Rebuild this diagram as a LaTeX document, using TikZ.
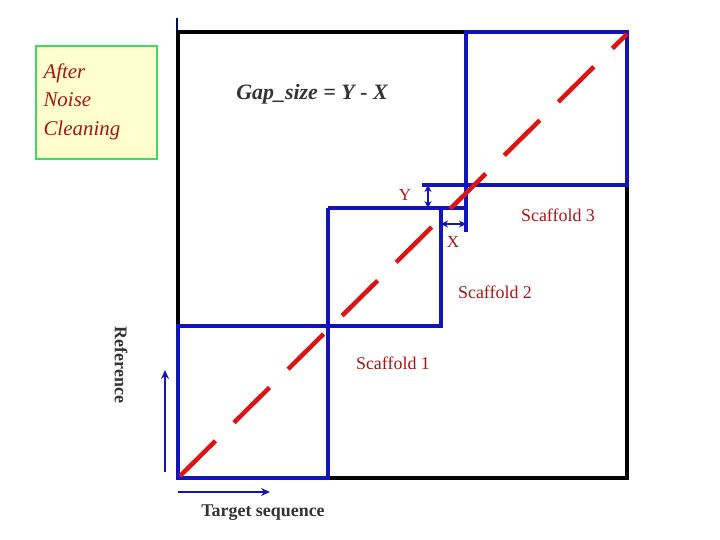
\documentclass[tikz,border=0pt]{standalone}
\usepackage{fontspec}
\setmainfont{Liberation Serif}
\usetikzlibrary{positioning,arrows.meta}
\definecolor{sblue}{RGB}{20,20,190}
\definecolor{sred}{RGB}{220,20,20}
\definecolor{tred}{RGB}{170,20,20}
\definecolor{sgreen}{RGB}{60,220,100}
\definecolor{syellow}{RGB}{255,255,205}
\begin{document}
\begin{tikzpicture}[x=1bp,y=-1bp,
			box/.style={draw=sblue, line width=3.2pt},
			tag/.style={text=tred, font=\fontsize{17}{19}\selectfont},
			dim/.style={draw=sblue, line width=2.5pt, {Stealth[length=7pt,width=7pt]}-{Stealth[length=7pt,width=7pt]}},
			axis/.style={draw=sblue, line width=2.2pt, -{Stealth[length=9pt,width=8pt]}}]
			\useasboundingbox (0,0) rectangle (720,540);
			\draw[sblue!50!black, line width=2pt] (177,18) -- (177,110);
			\draw[line width=4pt] (178,32) rectangle (627,478);
			\coordinate (s1a) at (178,326); \coordinate (s1b) at (328,478);
			\coordinate (s2a) at (328,208); \coordinate (s2b) at (441,326);
			\coordinate (s3a) at (466,32); \coordinate (s3b) at (627,185);
			\draw[box] (s1a) rectangle (s1b);
			\draw[box] (s2a) -- (466,208);
			\draw[box] (441,208) -- (s2b) -- (328,326) -- (s2a);
			\draw[box] (s3a) rectangle (s3b);
			\draw[box] (422,185) -- (466,185) -- (466,232);
			\draw[dim] (428,185) -- (428,208);
			\draw[dim] (441,224) -- (466,224);
			\draw[sred, line width=4.5pt, dash pattern=on 50bp off 26bp] (180,476) -- (627,34);
			\node[draw=sgreen, line width=3pt, fill=syellow, minimum width=121bp, minimum height=113bp] (noise) at (96.5,102.5) {};
			\node[tag, font=\fontsize{21}{28.5}\selectfont\itshape, align=left, anchor=north west] (noisetxt) at (40,60) {After\\Noise\\Cleaning};
			\node[font=\fontsize{22}{24}\selectfont\bfseries\itshape, text=black!80] (gap) at (312,94) {Gap\_size = Y - X};
			\node[tag] (ylab) at (405,195) {Y};
			\node[tag] (xlab) at (453,242) {X};
			\node[tag, font=\fontsize{18}{20}\selectfont] (sc3) at (558,215) {Scaffold 3};
			\node[tag, font=\fontsize{18}{20}\selectfont] (sc2) at (495,292) {Scaffold 2};
			\node[tag, font=\fontsize{18}{20}\selectfont] (sc1) at (393,363) {Scaffold 1};
			\node[rotate=-90, font=\fontsize{18}{20}\selectfont\bfseries, text=black!80] (ref) at (121,365) {Reference};
			\node[font=\fontsize{18}{20}\selectfont\bfseries, text=black!80] (target) at (263,513) {Target sequence};
			\coordinate (v0) at (165,472); \coordinate (v1) at (165,370);
			\coordinate (h0) at (178,492); \coordinate (h1) at (270,492);
			\draw[axis] (v0) -- (v1);
			\draw[axis] (h0) -- (h1);
		\end{tikzpicture}
\end{document}
